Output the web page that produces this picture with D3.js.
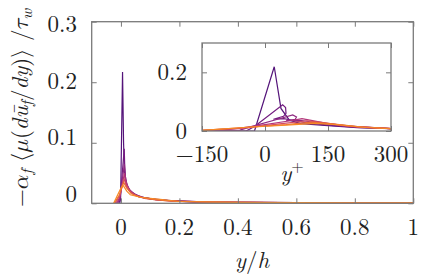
<!DOCTYPE html>
<html>
<head>
<meta charset="utf-8">
<script src="https://cdn.jsdelivr.net/npm/d3@7"></script>
<style>
  body { margin: 0; background: #fff; }
</style>
</head>
<body>
<div id="chart-area"></div>
<script>
// tick values
var xTicks = [0, 0.2, 0.4, 0.6, 0.8, 1];
var yTicks = [0, 0.1, 0.2, 0.3];
var xTicksInset = [-150, 0, 150, 300];
var yTicksInset = [0, 0.2];

var colors = ["#54147a", "#731c80", "#8f2a80", "#b3367a", "#d24a63", "#ea6a35", "#f68a26"];

// main panel, y/h
var yh0 = [-0.004, -0.001, 0.0055, 0.009, 0.012, 0.018, 0.03, 0.06, 0.12, 0.25, 0.5, 1];
var v0  = [0, 0.01, 0.217, 0.1, 0.05, 0.03, 0.02, 0.011, 0.006, 0.002, 0.001, 0.0006];
var yh1 = [-0.008, -0.003, 0.0113, 0.013, 0.016, 0.022, 0.035, 0.07, 0.14, 0.3, 0.6, 1];
var v1  = [0, 0.005, 0.09, 0.06, 0.04, 0.028, 0.018, 0.01, 0.005, 0.002, 0.001, 0.0006];
var yh2 = [-0.012, -0.004, 0.012, 0.015, 0.02, 0.03, 0.05, 0.09, 0.16, 0.3, 0.6, 1];
var v2  = [0, 0.008, 0.065, 0.045, 0.032, 0.022, 0.014, 0.008, 0.005, 0.002, 0.001, 0.0006];
var yh3 = [-0.016, -0.004, 0.012, 0.016, 0.025, 0.04, 0.07, 0.12, 0.2, 0.4, 0.7, 1];
var v3  = [0, 0.01, 0.05, 0.038, 0.025, 0.016, 0.01, 0.006, 0.003, 0.0015, 0.0008, 0.0006];
var yh4 = [-0.02, -0.005, 0.011, 0.018, 0.03, 0.05, 0.08, 0.13, 0.2, 0.4, 0.7, 1];
var v4  = [0, 0.012, 0.04, 0.03, 0.02, 0.013, 0.008, 0.005, 0.003, 0.0015, 0.0008, 0.0006];
var yh5 = [-0.023, -0.005, 0.009, 0.02, 0.035, 0.06, 0.1, 0.16, 0.3, 0.5, 0.82, 1];
var v5  = [0, 0.014, 0.035, 0.025, 0.016, 0.011, 0.007, 0.004, 0.002, 0.001, 0.0005, 0.0005];
var yh6 = [-0.025, 0, 0.007, 0.02, 0.032, 0.066, 0.134, 0.2, 0.4, 0.6, 0.8, 1];
var v6  = [0, 0.025, 0.03, 0.02, 0.014, 0.01, 0.0066, 0.003, 0.0015, 0.001, 0.0008, 0.0006];

// inset, y+
var yp0 = [-150, -25, 22, 38, 58, 85, 150, 220, 300];
var w0  = [0, 0, 0.219, 0.077, 0.037, 0.025, 0.018, 0.011, 0.008];
var yp1 = [-150, -45, -25, 42, 49, 50, 44, 20, 45, 70, 100, 150, 220, 300];
var w1  = [0, 0, 0.015, 0.089, 0.08, 0.06, 0.05, 0.04, 0.042, 0.035, 0.028, 0.02, 0.012, 0.008];
var yp2 = [-150, -60, -20, 30, 66, 75, 72, 50, 80, 95, 120, 180, 300];
var w2  = [0, 0.003, 0.02, 0.04, 0.055, 0.048, 0.04, 0.035, 0.037, 0.034, 0.029, 0.018, 0.008];
var yp3 = [-150, -80, 0, 60, 88, 110, 150, 220, 300];
var w3  = [0.001, 0.006, 0.022, 0.035, 0.042, 0.036, 0.025, 0.014, 0.008];
var yp4 = [-150, -50, 40, 100, 130, 200, 300];
var w4  = [0.002, 0.01, 0.025, 0.035, 0.03, 0.016, 0.008];
var yp5 = [-150, -50, 50, 110, 150, 220, 300];
var w5  = [0.002, 0.012, 0.022, 0.03, 0.026, 0.015, 0.008];
var yp6 = [-150, -50, 50, 120, 170, 240, 300];
var w6  = [0.002, 0.012, 0.02, 0.026, 0.022, 0.012, 0.008];

var mainX = [yh0, yh1, yh2, yh3, yh4, yh5, yh6];
var mainY = [v0, v1, v2, v3, v4, v5, v6];
var insetX = [yp0, yp1, yp2, yp3, yp4, yp5, yp6];
var insetY = [w0, w1, w2, w3, w4, w5, w6];

var width = 441, height = 280;
var frameColor = "#7a7a7a";
var font = "'Latin Modern Roman', 'Liberation Serif', serif";
var mathFont = "'Latin Modern Math', 'Latin Modern Roman', 'DejaVu Serif', serif";

var svg = d3.select("#chart-area")
    .append("svg")
    .attr("width", width)
    .attr("height", height)
    .attr("font-family", font);

var x = d3.scaleLinear().domain([-0.1, 1]).range([91.7, 413.3]);
var y = d3.scaleLinear().domain([0, 0.3]).range([203.3, 21.7]);
// tick labels sit a little off the ticks in the original
var yLab = d3.scaleLinear().domain([0, 0.3]).range([201.5, 32.3]);

var defs = svg.append("defs");
defs.append("clipPath").attr("id", "clipMain")
    .append("rect")
    .attr("x", x.range()[0]).attr("y", y.range()[1])
    .attr("width", x.range()[1] - x.range()[0])
    .attr("height", y.range()[0] - y.range()[1]);

// main curves
var gMain = svg.append("g").attr("clip-path", "url(#clipMain)");
mainX.forEach(function (xs, i) {
    var pts = xs.map(function (d, j) { return [d, mainY[i][j]]; });
    gMain.append("path")
        .attr("d", d3.line().x(d => x(d[0])).y(d => y(d[1]))(pts))
        .attr("fill", "none")
        .attr("stroke", colors[i])
        .attr("stroke-width", 1.2);
});

function styleAxis(g) {
    g.select(".domain").remove();
    g.selectAll(".tick line").attr("stroke", frameColor).attr("stroke-width", 1);
    g.selectAll(".tick text").remove();
}

svg.append("g").attr("transform", "translate(0," + y.range()[0] + ")")
    .call(d3.axisBottom(x).tickValues(xTicks).tickSize(-5)).call(styleAxis);
svg.append("g").attr("transform", "translate(0," + y.range()[1] + ")")
    .call(d3.axisTop(x).tickValues(xTicks).tickSize(-5)).call(styleAxis);
svg.append("g").attr("transform", "translate(" + x.range()[0] + ",0)")
    .call(d3.axisLeft(y).tickValues(yTicks).tickSize(-5)).call(styleAxis);
svg.append("g").attr("transform", "translate(" + x.range()[1] + ",0)")
    .call(d3.axisRight(y).tickValues(yTicks).tickSize(-5)).call(styleAxis);

svg.append("rect")
    .attr("x", x.range()[0]).attr("y", y.range()[1])
    .attr("width", x.range()[1] - x.range()[0])
    .attr("height", y.range()[0] - y.range()[1])
    .attr("fill", "none").attr("stroke", frameColor).attr("stroke-width", 1.3);

// main tick labels
svg.selectAll(".xlab").data(xTicks).enter().append("text")
    .attr("x", d => x(d)).attr("y", 235)
    .attr("text-anchor", "middle")
    .attr("font-size", 23)
    .attr("fill", "#222")
    .text(d => d3.format("~g")(d));
svg.selectAll(".ylab").data(yTicks).enter().append("text")
    .attr("x", 77).attr("y", d => yLab(d))
    .attr("text-anchor", "end")
    .attr("font-size", 23)
    .attr("fill", "#222")
    .text(d => d3.format("~g")(d));

// x label
var xl = svg.append("text")
    .attr("x", 252).attr("y", 268)
    .attr("text-anchor", "middle")
    .attr("font-size", 23)
    .attr("fill", "#222");
xl.append("tspan").attr("font-style", "italic").text("y");
xl.append("tspan").text("/");
xl.append("tspan").attr("font-style", "italic").text("h");

// y label
var yl = svg.append("text")
    .attr("transform", "translate(28,108) rotate(-90)")
    .attr("text-anchor", "middle")
    .attr("font-size", 23)
    .attr("fill", "#222");
yl.append("tspan").text("\u2212");
yl.append("tspan").attr("font-family", mathFont).text("\ud835\udefc");
yl.append("tspan").attr("font-style", "italic").attr("font-size", 16).attr("dy", 4).text("f");
yl.append("tspan").attr("dy", -4).attr("font-family", mathFont).text(" \u27e8");
yl.append("tspan").attr("font-family", mathFont).text("\ud835\udf07");
yl.append("tspan").text("(");
yl.append("tspan").attr("font-style", "italic").text("d\u016b");
yl.append("tspan").attr("font-style", "italic").attr("font-size", 16).attr("dy", 4).text("f");
yl.append("tspan").attr("dy", -4).text("/");
yl.append("tspan").attr("font-style", "italic").text("dy");
yl.append("tspan").text(")");
yl.append("tspan").attr("font-family", mathFont).text("\u27e9");
yl.append("tspan").text(" /");
yl.append("tspan").attr("font-family", mathFont).text("\ud835\udf0f");
yl.append("tspan").attr("font-style", "italic").attr("font-size", 16).attr("dy", 4).text("w");

// inset
var xi = d3.scaleLinear().domain([-150, 300]).range([202, 391]);
var yi = d3.scaleLinear().domain([0, 0.3]).range([131, 43]);

svg.append("rect")
    .attr("x", xi.range()[0]).attr("y", yi.range()[1])
    .attr("width", xi.range()[1] - xi.range()[0])
    .attr("height", yi.range()[0] - yi.range()[1])
    .attr("fill", "#fff");

defs.append("clipPath").attr("id", "clipInset")
    .append("rect")
    .attr("x", xi.range()[0]).attr("y", yi.range()[1])
    .attr("width", xi.range()[1] - xi.range()[0])
    .attr("height", yi.range()[0] - yi.range()[1]);

var gIn = svg.append("g").attr("clip-path", "url(#clipInset)");
insetX.forEach(function (xs, i) {
    var pts = xs.map(function (d, j) { return [d, insetY[i][j]]; });
    gIn.append("path")
        .attr("d", d3.line().x(d => xi(d[0])).y(d => yi(d[1]))(pts))
        .attr("fill", "none")
        .attr("stroke", colors[i])
        .attr("stroke-width", 1.2);
});

svg.append("g").attr("transform", "translate(0," + yi.range()[0] + ")")
    .call(d3.axisBottom(xi).tickValues(xTicksInset).tickSize(-5)).call(styleAxis);
svg.append("g").attr("transform", "translate(0," + yi.range()[1] + ")")
    .call(d3.axisTop(xi).tickValues(xTicksInset).tickSize(-5)).call(styleAxis);
svg.append("g").attr("transform", "translate(" + xi.range()[0] + ",0)")
    .call(d3.axisLeft(yi).tickValues(yTicksInset).tickSize(-5)).call(styleAxis);
svg.append("g").attr("transform", "translate(" + xi.range()[1] + ",0)")
    .call(d3.axisRight(yi).tickValues(yTicksInset).tickSize(-5)).call(styleAxis);

svg.append("rect")
    .attr("x", xi.range()[0]).attr("y", yi.range()[1])
    .attr("width", xi.range()[1] - xi.range()[0])
    .attr("height", yi.range()[0] - yi.range()[1])
    .attr("fill", "none").attr("stroke", frameColor).attr("stroke-width", 1.3);

svg.selectAll(".xilab").data(xTicksInset).enter().append("text")
    .attr("x", d => xi(d)).attr("y", 161.5)
    .attr("text-anchor", "middle")
    .attr("font-size", 23)
    .attr("fill", "#222")
    .text(d => d3.format("d")(d));
svg.selectAll(".yilab").data(yTicksInset).enter().append("text")
    .attr("x", 187).attr("y", d => yi(d) + 7.5)
    .attr("text-anchor", "end")
    .attr("font-size", 23)
    .attr("fill", "#222")
    .text(d => d3.format("~g")(d));

var yp = svg.append("text")
    .attr("x", 292).attr("y", 181)
    .attr("text-anchor", "middle")
    .attr("font-size", 23)
    .attr("fill", "#222");
yp.append("tspan").attr("font-style", "italic").text("y");
yp.append("tspan").attr("font-size", 16).attr("dy", -9).text("+");
</script>
</body>
</html>
